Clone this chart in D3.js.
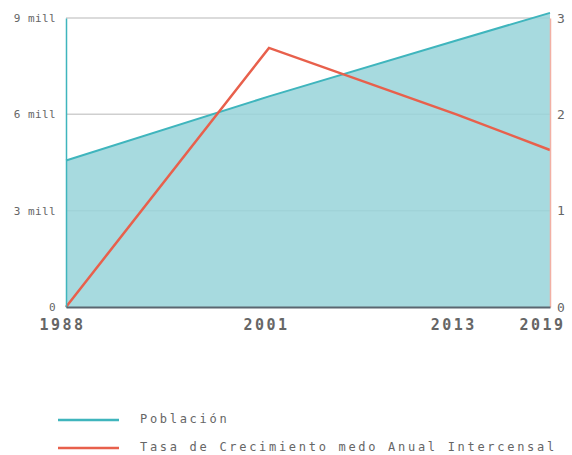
<!DOCTYPE html>
<html>
<head>
<meta charset="utf-8">
<script src="https://cdn.jsdelivr.net/npm/d3@7/dist/d3.min.js"></script>
<style>
  html, body { margin: 0; padding: 0; background: #fff; }
  svg { display: block; }
  text { font-family: "DejaVu Sans Mono", "Liberation Mono", monospace; fill: #666; }
</style>
</head>
<body>
<svg id="chart" width="572" height="455"></svg>
<script>
// Census years and series
const years = [1988, 2001, 2013, 2019];
const poblacion = [4560000, 6560000, 8300000, 9160000];
const tasa = [0, 2.69, 2.0, 1.63];

// Axis ticks
const leftTicks = [0, 3000000, 6000000, 9000000];
const leftTickLabels = ["0", "3 mill", "6 mill", "9 mill"];
const rightTicks = [0, 1, 2, 3];
const xTicks = [1988, 2001, 2013, 2019];

// Legend entries
const legendLabels = ["Población", "Tasa de Crecimiento medo Anual Intercensal"];

const teal = "#3fb5bd";
const tealFill = "#98d4d9";
const red = "#e8604c";

const svg = d3.select("#chart");
const m = { left: 66, right: 22, top: 18, bottom: 148 };
const W = 572, H = 455;
const x = d3.scaleLinear().domain([1988, 2019]).range([m.left, W - m.right]);
const yL = d3.scaleLinear().domain([0, 9000000]).range([H - m.bottom, m.top]);
const yR = d3.scaleLinear().domain([0, 3]).range([H - m.bottom, m.top]);

const data = years.map((yr, i) => ({ yr, p: poblacion[i], t: tasa[i] }));

// grid lines
svg.append("g")
  .selectAll("line")
  .data(leftTicks.filter(d => d > 0))
  .join("line")
  .attr("x1", x.range()[0]).attr("x2", x.range()[1])
  .attr("y1", d => yL(d)).attr("y2", d => yL(d))
  .attr("stroke", "#cfcfcf").attr("stroke-width", 1.5);

// population area
svg.append("path")
  .datum(data)
  .attr("d", d3.area().x(d => x(d.yr)).y0(yL(0)).y1(d => yL(d.p)))
  .attr("fill", tealFill).attr("fill-opacity", 0.85);

svg.append("path")
  .datum(data)
  .attr("d", d3.line().x(d => x(d.yr)).y(d => yL(d.p)))
  .attr("fill", "none").attr("stroke", teal).attr("stroke-width", 2);

// growth rate line
svg.append("path")
  .datum(data)
  .attr("d", d3.line().x(d => x(d.yr)).y(d => yR(d.t)))
  .attr("fill", "none").attr("stroke", red).attr("stroke-width", 2.5);

// left axis
const gL = svg.append("g").attr("transform", `translate(${m.left},0)`)
  .call(d3.axisLeft(yL).tickValues(leftTicks).tickSize(0).tickPadding(10)
    .tickFormat((d, i) => leftTickLabels[i]));
gL.select(".domain").attr("stroke", teal).attr("stroke-width", 1.5);
gL.selectAll("text").style("font-size", "11px").style("letter-spacing", "0.4px").attr("fill", "#777");

// right axis
const gR = svg.append("g").attr("transform", `translate(${W - m.right},0)`)
  .call(d3.axisRight(yR).tickValues(rightTicks).tickSize(0).tickPadding(7)
    .tickFormat(d3.format("d")));
gR.select(".domain").attr("stroke", "#f2b0a4").attr("stroke-width", 1.5);
gR.selectAll("text").style("font-size", "13px").attr("fill", "#777");

// bottom axis
const gB = svg.append("g").attr("transform", `translate(0,${H - m.bottom})`)
  .call(d3.axisBottom(x).tickValues(xTicks).tickSize(0).tickPadding(12)
    .tickFormat(d3.format("d")));
gB.select(".domain").attr("stroke", "#5a6670").attr("stroke-width", 2);
gB.selectAll("text").style("font-size", "15px").style("font-weight", "bold")
  .style("letter-spacing", "2.5px").attr("fill", "#666")
  .attr("dx", (d, i, n) => i === 0 ? -4 : (i === n.length - 1 ? -8 : -3));

// legend
const leg = svg.append("g");
const legColors = [teal, red];
legendLabels.forEach((lab, i) => {
  const ly = 419 + i * 28;
  leg.append("line").attr("x1", 58).attr("x2", 119).attr("y1", ly + 1).attr("y2", ly + 1)
    .attr("stroke", legColors[i]).attr("stroke-width", 2.5);
  leg.append("text").attr("x", 140).attr("y", ly).attr("dy", "0.35em")
    .style("font-size", "12px").style("letter-spacing", "2.7px").attr("fill", "#777").text(lab);
});
</script>
</body>
</html>
